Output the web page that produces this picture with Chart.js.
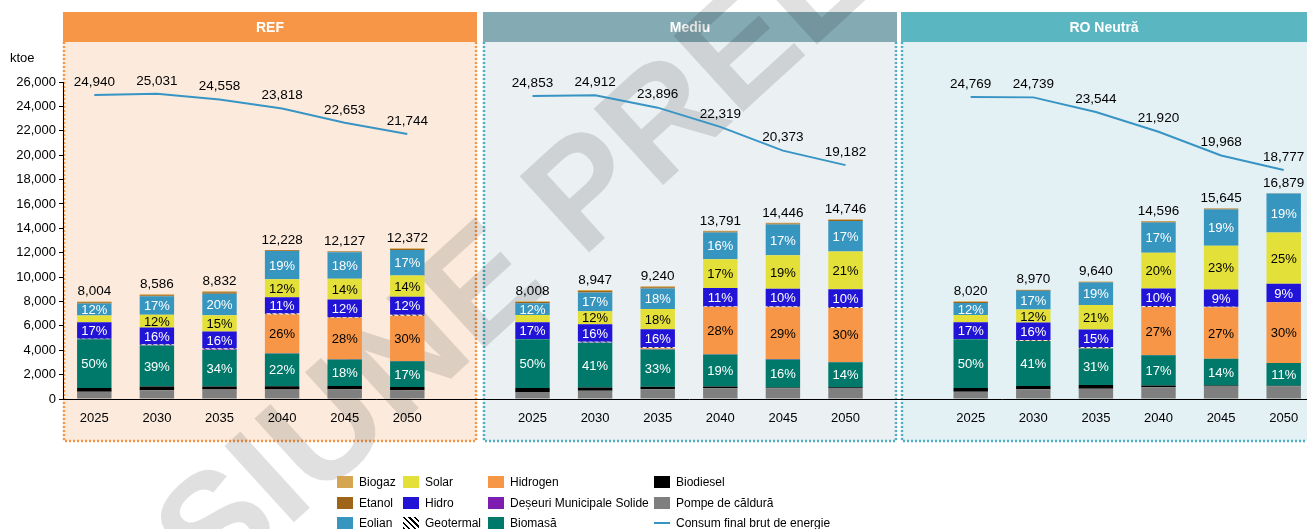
<!DOCTYPE html>
<html>
<head>
<meta charset="utf-8">
<script src="https://cdn.jsdelivr.net/npm/chart.js@4.4.0/dist/chart.umd.min.js"></script>
<style>
  html, body { margin: 0; padding: 0; background: #fff; overflow: hidden; }
  #wrap { position: relative; width: 1316px; height: 529px; }
  #legend { position: absolute; left: 0; top: 0; font: 12px "Liberation Sans", Arial, sans-serif; color: #000; }
  .li { position: absolute; display: flex; align-items: center; white-space: nowrap; height: 16px; }
  .sw { width: 16px; height: 12px; margin-right: 6px; }
  .ln { width: 16px; height: 2px; margin-right: 6px; }
</style>
</head>
<body>
<div id="wrap">
  <canvas id="c" width="1316" height="529"></canvas>
  <div id="legend"></div>
</div>
<script>
const years = ["2025", "2030", "2035", "2040", "2045", "2050"];
const categories = [...years, "", ...years, "", ...years];
const scenarios = ["REF", "Mediu", "RO Neutră"];

// ktoe, REF | gap | Mediu | gap | RO Neutra
const pompe     = [600, 720, 770, 780, 790, 720, null, 575, 680, 790, 875, 875, 900, null, 600, 800, 850, 960, 1060, 1040];
const biodiesel = [300, 300, 250, 270, 270, 270, null, 330, 270, 220, 160, 60, 60, null, 300, 270, 300, 140, 50, 50];
const biomasa   = [4002, 3360, 3003, 2690, 2183, 2103, null, 4004, 3668, 3049, 2620, 2311, 2064, null, 4010, 3678, 2988, 2481, 2190, 1857];
const deseuri   = [0, 20, 30, 20, 20, 20, null, 0, 20, 30, 20, 30, 20, null, 0, 0, 0, 20, 0, 0];
const hidrogen  = [0, 0, 0, 3179, 3396, 3712, null, 0, 0, 80, 3861, 4240, 4424, null, 0, 30, 50, 3941, 4224, 4990];
const geotermal = [30, 60, 80, 70, 50, 80, null, 22, 60, 80, 60, 80, 60, null, 20, 60, 60, 70, 40, 0];
const hidro     = [1361, 1400, 1413, 1345, 1455, 1485, null, 1361, 1432, 1478, 1517, 1445, 1475, null, 1363, 1435, 1446, 1460, 1408, 1519];
const solar     = [550, 1060, 1325, 1467, 1698, 1732, null, 605, 1074, 1663, 2344, 2745, 3097, null, 590, 1076, 2024, 2919, 3598, 4200];
const eolian    = [1000, 1500, 1766, 2323, 2183, 2103, null, 961, 1521, 1663, 2207, 2520, 2507, null, 990, 1525, 1832, 2481, 2973, 3200];
const etanol    = [90, 90, 110, 50, 50, 80, null, 90, 130, 110, 70, 80, 80, null, 85, 56, 50, 70, 60, 13];
const biogaz    = [71, 76, 85, 34, 32, 67, null, 60, 92, 77, 57, 60, 59, null, 62, 40, 40, 54, 42, 10];
const consum    = [24940, 25031, 24558, 23818, 22653, 21744, null, 24853, 24912, 23896, 22319, 20373, 19182, null, 24769, 24739, 23544, 21920, 19968, 18777];

const FONT = '"Liberation Sans", Arial, sans-serif';
const fmt = new Intl.NumberFormat("en-US");

function hatch() {
  const c = document.createElement("canvas");
  c.width = 6; c.height = 6;
  const g = c.getContext("2d");
  g.fillStyle = "#fff"; g.fillRect(0, 0, 6, 6);
  g.strokeStyle = "#000"; g.lineWidth = 1.4;
  g.beginPath();
  g.moveTo(-1, -1); g.lineTo(7, 7);
  g.moveTo(-4, 2); g.lineTo(4, 10);
  g.moveTo(2, -4); g.lineTo(10, 4);
  g.stroke();
  return g.createPattern(c, "repeat");
}

// stacking order, bottom first
const series = [
  { label: "Pompe de căldură", data: pompe, color: "#7f7f7f" },
  { label: "Biodiesel", data: biodiesel, color: "#000000" },
  { label: "Biomasă", data: biomasa, color: "#00796b", pct: "#fff" },
  { label: "Deșeuri Municipale Solide", data: deseuri, color: "#7e1eb0" },
  { label: "Hidrogen", data: hidrogen, color: "#f79646", pct: "#000" },
  { label: "Geotermal", data: geotermal, color: hatch() },
  { label: "Hidro", data: hidro, color: "#2214d6", pct: "#fff" },
  { label: "Solar", data: solar, color: "#e3e03a", pct: "#000" },
  { label: "Eolian", data: eolian, color: "#3796c0", pct: "#fff" },
  { label: "Etanol", data: etanol, color: "#9e6418" },
  { label: "Biogaz", data: biogaz, color: "#d5a552" },
];

const panels = [
  { x0: 63, x1: 477, head: "#f79646", body: "#fcebdd", dot: "#f79646", tx: 270 },
  { x0: 483, x1: 897, head: "#84aab4", body: "#ebf0f3", dot: "#4fb0c4", tx: 690 },
  { x0: 901, x1: 1316, head: "#5ab6c1", body: "#e3f1f4", dot: "#4fb0c4", tx: 1104 },
];

const backdrop = {
  id: "backdrop",
  beforeDraw(chart) {
    const ctx = chart.ctx;
    ctx.save();
    panels.forEach((p, i) => {
      ctx.fillStyle = p.body;
      ctx.fillRect(p.x0, 42, p.x1 - p.x0, 399);
      ctx.strokeStyle = p.dot;
      ctx.lineWidth = 2.5;
      ctx.setLineDash([2, 2]);
      ctx.beginPath();
      ctx.moveTo(p.x0 + 1, 42); ctx.lineTo(p.x0 + 1, 441);
      ctx.lineTo(p.x1 - 1, 441); ctx.lineTo(p.x1 - 1, 42);
      ctx.stroke();
      ctx.setLineDash([]);
      ctx.fillStyle = p.head;
      ctx.fillRect(p.x0, 12, p.x1 - p.x0, 30);
      ctx.fillStyle = "#fff";
      ctx.font = "bold 14px " + FONT;
      ctx.textAlign = "center";
      ctx.textBaseline = "middle";
      ctx.fillText(scenarios[i], p.tx, 28);
    });
    ctx.fillStyle = "#000";
    ctx.font = "13px " + FONT;
    ctx.textAlign = "left";
    ctx.fillText("ktoe", 10, 58);
    ctx.restore();
  },
  beforeDatasetsDraw(chart) {
    const ctx = chart.ctx;
    ctx.save();
    ctx.translate(640, 150);
    ctx.rotate(-0.74);
    ctx.font = "bold 150px " + FONT;
    ctx.fillStyle = "rgba(0,0,0,0.12)";
    ctx.textAlign = "center";
    ctx.textBaseline = "middle";
    ctx.fillText("VERSIUNE PRELIMINARĂ", 0, 0);
    ctx.restore();
  },
};

const labels = {
  id: "labels",
  afterDatasetsDraw(chart) {
    const ctx = chart.ctx;
    const y = chart.scales.y;
    ctx.save();
    ctx.textAlign = "center";
    ctx.textBaseline = "middle";
    const totals = categories.map((_, i) =>
      series.reduce((s, d) => s + (d.data[i] || 0), 0));
    ctx.font = "13px " + FONT;
    series.forEach((s, di) => {
      if (!s.pct) return;
      const meta = chart.getDatasetMeta(di);
      meta.data.forEach((el, i) => {
        const v = s.data[i];
        if (v == null || !totals[i]) return;
        const p = v / totals[i] * 100;
        if (p < 8.5) return;
        ctx.fillStyle = s.pct;
        ctx.fillText(Math.round(p) + "%", el.x, (el.y + el.base) / 2 + 1);
      });
    });
    ctx.font = "13.5px " + FONT;
    const top = chart.getDatasetMeta(series.length - 1);
    ctx.fillStyle = "#000";
    top.data.forEach((el, i) => {
      if (!totals[i]) return;
      ctx.fillText(fmt.format(totals[i]), el.x, y.getPixelForValue(totals[i]) - 10);
    });
    const lm = chart.getDatasetMeta(series.length);
    lm.data.forEach((el, i) => {
      if (consum[i] == null) return;
      ctx.fillText(fmt.format(consum[i]), el.x, el.y - 13);
    });
    ctx.restore();
  },
};

const datasets = series.map(s => ({
  type: "bar",
  label: s.label,
  data: s.data,
  backgroundColor: s.color,
  borderWidth: 0,
  stack: "mix",
  order: 1,
  barPercentage: 0.55,
  categoryPercentage: 1,
}));
datasets.push({
  type: "line",
  label: "Consum final brut de energie",
  data: consum,
  borderColor: "#3894c4",
  borderWidth: 2,
  pointRadius: 0,
  tension: 0,
  spanGaps: false,
  stack: "line",
  order: 0,
});

new Chart(document.getElementById("c"), {
  data: { labels: categories, datasets },
  plugins: [backdrop, labels],
  options: {
    responsive: false,
    animation: false,
    devicePixelRatio: 1,
    layout: { padding: { top: 82, left: 0, right: 1, bottom: 0 } },
    plugins: { legend: { display: false }, tooltip: { enabled: false } },
    scales: {
      x: {
        stacked: true,
        grid: { display: false },
        border: { display: true, color: "#000", width: 1 },
        ticks: { color: "#000", font: { family: FONT, size: 13 }, padding: 4, maxRotation: 0, autoSkip: false },
        afterFit(s) { s.height = 130; },
      },
      y: {
        stacked: true,
        min: 0,
        max: 26000,
        ticks: { stepSize: 2000, color: "#000", font: { family: FONT, size: 13 }, padding: 3,
                 callback: v => fmt.format(v) },
        grid: { drawOnChartArea: false, drawTicks: true, tickLength: 4, color: "#000" },
        border: { display: true, color: "#000", width: 1 },
        afterFit(s) { s.width = 63; },
      },
    },
  },
});

// legend, column by column
const legendCols = [
  { x: 337, items: [["Biogaz", "#d5a552"], ["Etanol", "#9e6418"], ["Eolian", "#3796c0"]] },
  { x: 403, items: [["Solar", "#e3e03a"], ["Hidro", "#2214d6"], ["Geotermal", "hatch"]] },
  { x: 488, items: [["Hidrogen", "#f79646"], ["Deșeuri Municipale Solide", "#7e1eb0"], ["Biomasă", "#00796b"]] },
  { x: 654, items: [["Biodiesel", "#000000"], ["Pompe de căldură", "#7f7f7f"], ["Consum final brut de energie", "line"]] },
];
const rowY = [474, 495, 515];
const lg = document.getElementById("legend");
legendCols.forEach(col => col.items.forEach(([name, c], r) => {
  const d = document.createElement("div");
  d.className = "li";
  d.style.left = col.x + "px";
  d.style.top = rowY[r] + "px";
  let sw;
  if (c === "line") sw = '<span class="ln" style="background:#3894c4"></span>';
  else if (c === "hatch") sw = '<span class="sw" style="background:repeating-linear-gradient(45deg,#000 0 1.5px,#fff 1.5px 4px)"></span>';
  else sw = `<span class="sw" style="background:${c}"></span>`;
  d.innerHTML = sw + `<span>${name}</span>`;
  lg.appendChild(d);
}));
</script>
</body>
</html>
